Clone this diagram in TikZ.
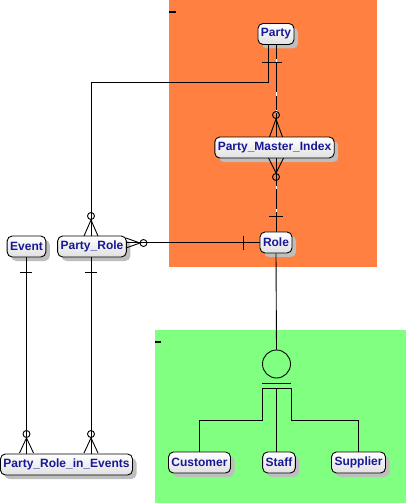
\documentclass[tikz,border=0pt]{standalone}
\usepackage{fontspec}
\setmainfont{Liberation Sans}
\usetikzlibrary{shadows,calc}
\definecolor{orangebg}{RGB}{255,128,64}
\definecolor{greenbg}{RGB}{128,255,128}
\definecolor{navytext}{RGB}{24,24,150}
\definecolor{shadowgray}{RGB}{190,190,190}
\begin{document}
\begin{tikzpicture}[x=1pt,y=-1pt,
  entity/.style={draw=black,line width=0.9pt,rounded corners=5pt,
    top color=white,bottom color=black!12,
    drop shadow={shadow xshift=4pt,shadow yshift=-4pt,fill=shadowgray,opacity=1},
    font=\fontsize{12}{14}\selectfont\bfseries,text=navytext,
    inner xsep=3pt,inner ysep=0pt,minimum height=21pt},
  conn/.style={line width=0.9pt,draw=black},
  relmark/.style={line width=0.9pt,draw=black},
  tickmark/.style={line width=1.6pt,draw=black}]
\useasboundingbox (0,0) rectangle (406,503);
% backgrounds
\fill[orangebg] (169,0) rectangle (377,267);
\fill[greenbg] (155,330) rectangle (406,503);
\draw[tickmark] (169,12) -- (175.5,12);
\draw[tickmark] (155,342) -- (161,342);
% entities
\node[entity] (Party) at (276,34) {Party};
\node[entity] (PMI) at (274.5,147.5) {Party\_Master\_Index};
\node[entity] (Role) at (276,242.5) {Role};
\node[entity] (Event) at (26.5,246.5) {Event};
\node[entity] (PartyRole) at (92,246.5) {Party\_Role};
\node[entity] (PRiE) at (66.5,464.5) {Party\_Role\_in\_Events};
\node[entity] (Customer) at (199.5,462.5) {Customer};
\node[entity] (Staff) at (279,462.5) {Staff};
\node[entity] (Supplier) at (358.5,462.5) {Supplier};
% Party -> Party_Role
\coordinate (bendPR) at (268,82);
\draw[conn] ([xshift=-8pt]Party.south) -- (bendPR) -| ([xshift=-1pt]PartyRole.north);
\draw[relmark] (262,62) -- (282,62);
\draw[relmark] (91,216) circle (3.5);
\draw[relmark] (84,236) -- (91,220) -- (98,236);
% Party -> Party_Master_Index
\draw[line width=0.9pt,white] (Party.south) -- (Party.south |- PMI.north);
\draw[conn,dash pattern=on 14pt off 3pt on 30pt off 4pt] (Party.south) -- (Party.south |- PMI.north);
\draw[relmark] (276,115) circle (3.5);
\draw[relmark] (269.5,137) -- (276,119) -- (282.5,137);
% Party_Master_Index -> Role
\draw[line width=0.9pt,white] (PMI.south -| Role) -- (Role.north);
\draw[conn,dash pattern=on 28pt off 3pt on 20pt off 3pt] (PMI.south -| Role) -- (Role.north);
\draw[relmark] (268.5,158) -- (276,173) -- (283.5,158);
\draw[relmark] (276,177) circle (3.5);
\draw[relmark] (269,216.5) -- (283,216.5);
% Party_Role -> Role
\draw[conn] (PartyRole.east |- Role) -- (Role.west);
\draw[relmark] (126,238) -- (140,243) -- (126,248);
\draw[relmark] (143.5,243) circle (3.5);
\draw[relmark] (243,236) -- (243,250);
% Event -> Party_Role_in_Events
\draw[conn] (Event.south) -- (Event.south |- PRiE.north);
\draw[relmark] (20,272) -- (32,272);
\draw[relmark] (26.5,434) circle (3.5);
\draw[relmark] (19.5,453) -- (26.5,438) -- (33.5,453);
% Party_Role -> Party_Role_in_Events
\draw[conn] ([xshift=-1pt]PartyRole.south) -- ([xshift=-1pt]PartyRole.south |- PRiE.north);
\draw[relmark] (85,272) -- (97,272);
\draw[relmark] (91,434) circle (3.5);
\draw[relmark] (84,453) -- (91,438) -- (98,453);
% subtype
\node[circle,draw=black,line width=0.9pt,minimum size=28pt,inner sep=0pt] (sub) at (276.5,364) {};
\draw[conn] (Role.south) -- (sub.north);
\draw[relmark] (262,383) -- (291,383);
\draw[relmark] (262,388) -- (291,388);
\coordinate (gl) at (262,388);
\coordinate (gm) at (276.5,388);
\coordinate (gr) at (291,388);
\draw[conn] (gl) -- (262,420) -| (Customer.north);
\draw[conn] (gm) -- (gm |- Staff.north);
\draw[conn] (gr) -- (291,420) -| (Supplier.north);
\end{tikzpicture}
\end{document}
